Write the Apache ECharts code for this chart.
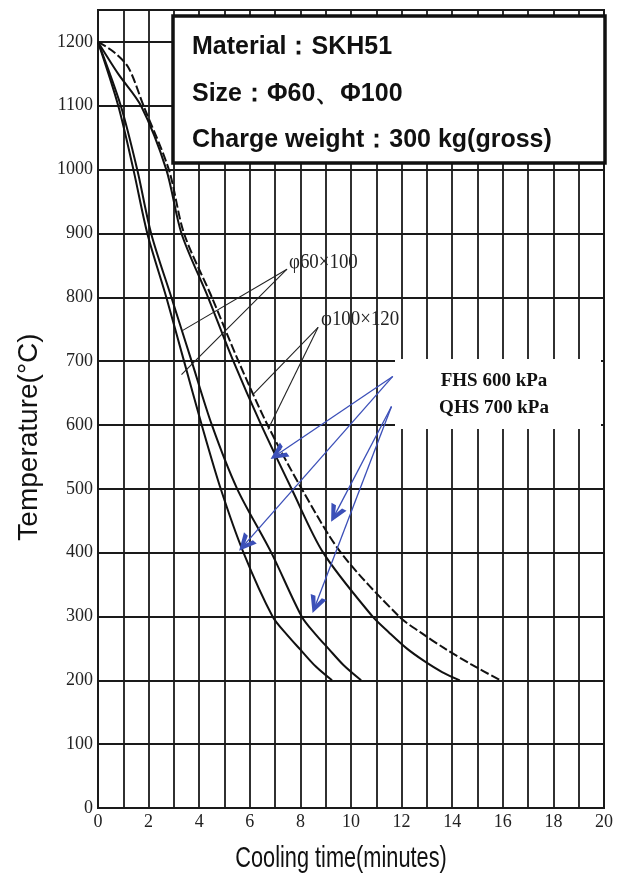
<!DOCTYPE html>
<html>
<head>
<meta charset="utf-8">
<script src="https://cdn.jsdelivr.net/npm/echarts@6/dist/echarts.min.js"></script>
<style>
html,body{margin:0;padding:0;background:#fff;}
#chart{width:630px;height:879px;}
</style>
</head>
<body>
<div id="chart"></div>
<script>
// ---- Data ----
const xTicks = [0,2,4,6,8,10,12,14,16,18,20];
const yTicks = [0,100,200,300,400,500,600,700,800,900,1000,1100,1200];
// cooling curves: [time (min), temperature (°C)]
const curveA = [[0,1200],[0.8,1100],[1.4,1000],[1.95,900],[2.7,800],[3.4,700],[4.1,600],[4.85,500],[5.75,400],[6.9,300],[7.5,270],[8.0,248],[8.6,222],[9.25,200]];
const curveB = [[0,1200],[0.9,1100],[1.55,1000],[2.1,900],[2.9,800],[3.7,700],[4.5,600],[5.5,500],[6.85,400],[8.05,300],[8.6,272],[9.1,250],[9.7,224],[10.4,200]];
const curveC = [[0,1200],[0.8,1150],[1.7,1100],[2.7,1000],[3.3,900],[4.35,800],[5.35,700],[6.45,600],[7.65,500],[8.9,400],[10.85,300],[11.5,275],[12.2,250],[12.9,230],[13.6,213],[14.3,200]];
const curveD = [[0,1200],[0.6,1185],[1.2,1160],[1.8,1100],[2.8,1000],[3.4,900],[4.5,800],[5.55,700],[6.7,600],[8.05,500],[9.6,400],[11.9,300],[12.75,275],[13.7,250],[14.75,225],[15.9,200]];
// annotation leader lines [start, end]
const leader60 = [[[7.47,844],[3.3,747]],[[7.47,844],[3.3,679]]];
const leader100 = [[[8.7,753],[6.13,648]],[[8.7,753],[6.72,593]]];
const arrowsFHS = [[[11.65,676],[7.1,554]],[[11.65,676],[5.8,413]]];
const arrowsQHS = [[[11.6,629],[9.37,460]],[[11.6,629],[8.6,318]]];
const infoLines = ['Material：SKH51','Size：Φ60、Φ100','Charge weight：300 kg(gross)'];
const pressureLines = ['FHS 600 kPa','QHS 700 kPa'];
const sizeLabels = ['φ60×100','φ100×120'];

const chart = echarts.init(document.getElementById('chart'), null, {renderer:'canvas'});
const gridColor = '#1a1a1a';
const chevron = 'path://M0,20 L10,0 L20,20 L14,20 L10,10 L6,20 Z';

function curveSeries(data, dashed){
  return {
    type:'line', data:data, showSymbol:false, smooth:0.3,
    lineStyle:{color:'#111', width:2, type: dashed ? [9,3] : 'solid'}, z:3, silent:true
  };
}
function linesSeries(pairs, color, width, withArrow){
  return {
    type:'lines', coordinateSystem:'cartesian2d', silent:true, z:10,
    symbol: withArrow ? ['none', chevron] : ['none','none'],
    symbolSize: withArrow ? [18,17] : 0,
    lineStyle:{color:color, width:width, opacity:1, curveness:0},
    data: pairs.map(p => ({coords:p}))
  };
}

const option = {
  animation:false,
  backgroundColor:'#fff',
  grid:{left:98, right:26, top:10, bottom:71, show:true, borderColor:gridColor, borderWidth:2, backgroundColor:'transparent'},
  xAxis:{
    type:'value', min:0, max:20, interval:1,
    axisLine:{show:true, lineStyle:{color:gridColor, width:2}},
    axisTick:{show:false},
    axisLabel:{
      color:'#222', fontFamily:'"Liberation Serif"', fontSize:18, margin:5,
      formatter: v => xTicks.indexOf(v) >= 0 ? String(v) : ''
    },
    splitLine:{show:true, lineStyle:{color:gridColor, width:1.8}}
  },
  yAxis:{
    type:'value', min:0, max:1250, interval:100,
    axisLine:{show:true, lineStyle:{color:gridColor, width:2}},
    axisTick:{show:false},
    axisLabel:{
      color:'#222', fontFamily:'"Liberation Serif"', fontSize:18, margin:5, showMaxLabel:false,
      formatter: v => yTicks.indexOf(v) >= 0 ? String(v) : ''
    },
    splitLine:{show:true, lineStyle:{color:gridColor, width:1.8}}
  },
  series:[
    curveSeries(curveA,false),
    curveSeries(curveB,false),
    curveSeries(curveC,false),
    curveSeries(curveD,true),
    linesSeries(leader60,'#222',1.1,false),
    linesSeries(leader100,'#222',1.1,false),
    linesSeries(arrowsFHS,'#3b4fb8',1.3,true),
    linesSeries(arrowsQHS,'#3b4fb8',1.3,true)
  ],
  graphic:[
    {type:'rect', z:5, shape:{x:395, y:359, width:206, height:70}, style:{fill:'#fff'}},
    {type:'rect', z:6, shape:{x:173, y:16, width:432, height:147}, style:{fill:'#fff', stroke:'#111', lineWidth:3.5}},
    {type:'text', z:7, x:192, y:47, style:{text:infoLines[0], font:'bold 25px "Liberation Sans"', fill:'#111', textVerticalAlign:'middle'}},
    {type:'text', z:7, x:192, y:94, style:{text:infoLines[1], font:'bold 25px "Liberation Sans"', fill:'#111', textVerticalAlign:'middle'}},
    {type:'text', z:7, x:192, y:140, style:{text:infoLines[2], font:'bold 25px "Liberation Sans"', fill:'#111', textVerticalAlign:'middle'}},
    {type:'text', z:7, x:494, y:381, style:{text:pressureLines[0], font:'bold 19px "Liberation Serif"', fill:'#111', textAlign:'center', textVerticalAlign:'middle'}},
    {type:'text', z:7, x:494, y:408, style:{text:pressureLines[1], font:'bold 19px "Liberation Serif"', fill:'#111', textAlign:'center', textVerticalAlign:'middle'}},
    {type:'text', z:7, x:289, y:262, scaleX:0.9, style:{text:sizeLabels[0], font:'21px "Liberation Serif"', fill:'#222', textVerticalAlign:'middle'}},
    {type:'text', z:7, x:321, y:319, scaleX:0.9, style:{text:sizeLabels[1], font:'21px "Liberation Serif"', fill:'#222', textVerticalAlign:'middle'}},
    {type:'text', z:7, x:29, y:437, rotation:Math.PI/2, style:{text:'Temperature(°C)', font:'28px "Liberation Sans"', fill:'#111', textAlign:'center', textVerticalAlign:'middle'}},
    {type:'text', z:7, x:341, y:859, scaleX:0.75, style:{text:'Cooling time(minutes)', font:'29px "Liberation Sans"', fill:'#111', textAlign:'center', textVerticalAlign:'middle'}}
  ]
};
chart.setOption(option);
</script>
</body>
</html>
